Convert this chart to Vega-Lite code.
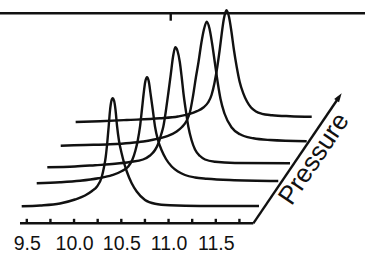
{
  "$schema": "https://vega.github.io/schema/vega-lite/v6.json",
  "width": 365,
  "height": 224,
  "autosize": {"type": "none"},
  "padding": {"left": 0, "top": 0, "right": 0, "bottom": 31},
  "background": "white",
  "view": {"stroke": null},
  "config": {"font": "Liberation Sans"},
  "datasets": {
    "traces": [
      {"trace": 1, "x": 9.446, "y": -0.003}, {"trace": 1, "x": 9.640, "y": 0.005}, {"trace": 1, "x": 9.851, "y": 0.025}, {"trace": 1, "x": 10.010, "y": 0.065}, {"trace": 1, "x": 10.116, "y": 0.105}, {"trace": 1, "x": 10.190, "y": 0.15}, {"trace": 1, "x": 10.243, "y": 0.195}, {"trace": 1, "x": 10.293, "y": 0.29}, {"trace": 1, "x": 10.317, "y": 0.39}, {"trace": 1, "x": 10.335, "y": 0.49}, {"trace": 1, "x": 10.351, "y": 0.63}, {"trace": 1, "x": 10.366, "y": 0.79}, {"trace": 1, "x": 10.380, "y": 0.95}, {"trace": 1, "x": 10.395, "y": 1.05}, {"trace": 1, "x": 10.409, "y": 1.077}, {"trace": 1, "x": 10.423, "y": 1.055}, {"trace": 1, "x": 10.439, "y": 0.96}, {"trace": 1, "x": 10.455, "y": 0.80}, {"trace": 1, "x": 10.476, "y": 0.65}, {"trace": 1, "x": 10.504, "y": 0.525}, {"trace": 1, "x": 10.531, "y": 0.425}, {"trace": 1, "x": 10.560, "y": 0.34}, {"trace": 1, "x": 10.610, "y": 0.227}, {"trace": 1, "x": 10.663, "y": 0.145}, {"trace": 1, "x": 10.751, "y": 0.06}, {"trace": 1, "x": 10.857, "y": 0.022}, {"trace": 1, "x": 11.015, "y": 0.007}, {"trace": 1, "x": 11.333, "y": 0.0}, {"trace": 1, "x": 11.957, "y": 0.0},
      {"trace": 2, "x": 9.605, "y": 0.227}, {"trace": 2, "x": 9.851, "y": 0.237}, {"trace": 2, "x": 10.063, "y": 0.252}, {"trace": 2, "x": 10.257, "y": 0.277}, {"trace": 2, "x": 10.402, "y": 0.308}, {"trace": 2, "x": 10.507, "y": 0.35}, {"trace": 2, "x": 10.574, "y": 0.395}, {"trace": 2, "x": 10.616, "y": 0.46}, {"trace": 2, "x": 10.648, "y": 0.55}, {"trace": 2, "x": 10.675, "y": 0.66}, {"trace": 2, "x": 10.698, "y": 0.793}, {"trace": 2, "x": 10.719, "y": 0.97}, {"trace": 2, "x": 10.736, "y": 1.12}, {"trace": 2, "x": 10.753, "y": 1.24}, {"trace": 2, "x": 10.772, "y": 1.287}, {"trace": 2, "x": 10.791, "y": 1.245}, {"trace": 2, "x": 10.809, "y": 1.127}, {"trace": 2, "x": 10.832, "y": 0.97}, {"trace": 2, "x": 10.857, "y": 0.793}, {"trace": 2, "x": 10.888, "y": 0.66}, {"trace": 2, "x": 10.928, "y": 0.555}, {"trace": 2, "x": 10.973, "y": 0.47}, {"trace": 2, "x": 11.033, "y": 0.395}, {"trace": 2, "x": 11.100, "y": 0.345}, {"trace": 2, "x": 11.174, "y": 0.31}, {"trace": 2, "x": 11.280, "y": 0.285}, {"trace": 2, "x": 11.407, "y": 0.273}, {"trace": 2, "x": 11.650, "y": 0.26}, {"trace": 2, "x": 12.161, "y": 0.25},
      {"trace": 3, "x": 9.717, "y": 0.387}, {"trace": 3, "x": 10.010, "y": 0.395}, {"trace": 3, "x": 10.222, "y": 0.408}, {"trace": 3, "x": 10.433, "y": 0.422}, {"trace": 3, "x": 10.592, "y": 0.44}, {"trace": 3, "x": 10.730, "y": 0.465}, {"trace": 3, "x": 10.804, "y": 0.505}, {"trace": 3, "x": 10.857, "y": 0.56}, {"trace": 3, "x": 10.894, "y": 0.63}, {"trace": 3, "x": 10.920, "y": 0.71}, {"trace": 3, "x": 10.945, "y": 0.795}, {"trace": 3, "x": 10.973, "y": 0.96}, {"trace": 3, "x": 10.997, "y": 1.125}, {"trace": 3, "x": 11.024, "y": 1.32}, {"trace": 3, "x": 11.047, "y": 1.49}, {"trace": 3, "x": 11.071, "y": 1.587}, {"trace": 3, "x": 11.095, "y": 1.55}, {"trace": 3, "x": 11.119, "y": 1.44}, {"trace": 3, "x": 11.140, "y": 1.28}, {"trace": 3, "x": 11.158, "y": 1.125}, {"trace": 3, "x": 11.182, "y": 0.96}, {"trace": 3, "x": 11.209, "y": 0.795}, {"trace": 3, "x": 11.243, "y": 0.66}, {"trace": 3, "x": 11.280, "y": 0.565}, {"trace": 3, "x": 11.333, "y": 0.50}, {"trace": 3, "x": 11.386, "y": 0.465}, {"trace": 3, "x": 11.492, "y": 0.442}, {"trace": 3, "x": 11.703, "y": 0.43}, {"trace": 3, "x": 12.285, "y": 0.427},
      {"trace": 4, "x": 9.859, "y": 0.603}, {"trace": 4, "x": 10.116, "y": 0.61}, {"trace": 4, "x": 10.380, "y": 0.617}, {"trace": 4, "x": 10.592, "y": 0.63}, {"trace": 4, "x": 10.733, "y": 0.645}, {"trace": 4, "x": 10.835, "y": 0.662}, {"trace": 4, "x": 10.910, "y": 0.678}, {"trace": 4, "x": 10.994, "y": 0.702}, {"trace": 4, "x": 11.086, "y": 0.745}, {"trace": 4, "x": 11.142, "y": 0.79}, {"trace": 4, "x": 11.190, "y": 0.85}, {"trace": 4, "x": 11.227, "y": 0.94}, {"trace": 4, "x": 11.259, "y": 1.10}, {"trace": 4, "x": 11.290, "y": 1.29}, {"trace": 4, "x": 11.317, "y": 1.44}, {"trace": 4, "x": 11.347, "y": 1.63}, {"trace": 4, "x": 11.373, "y": 1.76}, {"trace": 4, "x": 11.404, "y": 1.843}, {"trace": 4, "x": 11.433, "y": 1.775}, {"trace": 4, "x": 11.460, "y": 1.63}, {"trace": 4, "x": 11.492, "y": 1.42}, {"trace": 4, "x": 11.521, "y": 1.23}, {"trace": 4, "x": 11.550, "y": 1.07}, {"trace": 4, "x": 11.592, "y": 0.925}, {"trace": 4, "x": 11.668, "y": 0.785}, {"trace": 4, "x": 11.756, "y": 0.717}, {"trace": 4, "x": 11.897, "y": 0.677}, {"trace": 4, "x": 12.074, "y": 0.66}, {"trace": 4, "x": 12.462, "y": 0.648},
      {"trace": 5, "x": 10.017, "y": 0.84}, {"trace": 5, "x": 10.275, "y": 0.848}, {"trace": 5, "x": 10.557, "y": 0.86}, {"trace": 5, "x": 10.910, "y": 0.877}, {"trace": 5, "x": 11.100, "y": 0.895}, {"trace": 5, "x": 11.216, "y": 0.918}, {"trace": 5, "x": 11.301, "y": 0.948}, {"trace": 5, "x": 11.368, "y": 0.985}, {"trace": 5, "x": 11.418, "y": 1.035}, {"trace": 5, "x": 11.455, "y": 1.11}, {"trace": 5, "x": 11.486, "y": 1.23}, {"trace": 5, "x": 11.516, "y": 1.393}, {"trace": 5, "x": 11.541, "y": 1.56}, {"trace": 5, "x": 11.563, "y": 1.727}, {"trace": 5, "x": 11.587, "y": 1.88}, {"trace": 5, "x": 11.613, "y": 1.957}, {"trace": 5, "x": 11.640, "y": 1.89}, {"trace": 5, "x": 11.666, "y": 1.74}, {"trace": 5, "x": 11.692, "y": 1.56}, {"trace": 5, "x": 11.721, "y": 1.393}, {"trace": 5, "x": 11.753, "y": 1.24}, {"trace": 5, "x": 11.791, "y": 1.127}, {"trace": 5, "x": 11.830, "y": 1.045}, {"trace": 5, "x": 11.873, "y": 0.985}, {"trace": 5, "x": 11.925, "y": 0.945}, {"trace": 5, "x": 11.989, "y": 0.922}, {"trace": 5, "x": 12.095, "y": 0.908}, {"trace": 5, "x": 12.285, "y": 0.898}, {"trace": 5, "x": 12.515, "y": 0.893}
    ],
    "segments": [
      {"part": "x axis", "x": 9.428, "x2": 11.897, "y": -0.173, "y2": -0.173},
      {"part": "tick", "x": 9.5, "x2": 9.5, "y": -0.173, "y2": -0.128},
      {"part": "tick", "x": 9.75, "x2": 9.75, "y": -0.173, "y2": -0.128},
      {"part": "tick", "x": 10.0, "x2": 10.0, "y": -0.173, "y2": -0.128},
      {"part": "tick", "x": 10.25, "x2": 10.25, "y": -0.173, "y2": -0.128},
      {"part": "tick", "x": 10.5, "x2": 10.5, "y": -0.173, "y2": -0.128},
      {"part": "tick", "x": 10.75, "x2": 10.75, "y": -0.173, "y2": -0.128},
      {"part": "tick", "x": 11.0, "x2": 11.0, "y": -0.173, "y2": -0.128},
      {"part": "tick", "x": 11.25, "x2": 11.25, "y": -0.173, "y2": -0.128},
      {"part": "tick", "x": 11.5, "x2": 11.5, "y": -0.173, "y2": -0.128},
      {"part": "tick", "x": 11.75, "x2": 11.75, "y": -0.173, "y2": -0.128},
      {"part": "top border", "x": 9.2164, "x2": 13.0788, "y": 1.927, "y2": 1.927},
      {"part": "top tick", "x": 11.023, "x2": 11.023, "y": 1.927, "y2": 1.853},
      {"part": "pressure axis", "x": 11.897, "x2": 12.805, "y": -0.173, "y2": 1.09}
    ],
    "arrow": [{"x": 12.805, "y": 1.09}],
    "labels": [{"x": 12.539, "y": 0.47, "label": "Pressure"}]
  },
  "layer": [
    {
      "data": {"name": "traces"},
      "mark": {"type": "line", "color": "#111111", "strokeWidth": 2.4, "interpolate": "monotone"},
      "encoding": {
        "x": {
          "field": "x", "type": "quantitative",
          "scale": {"domain": [9.2164, 13.0788], "nice": false, "zero": false},
          "axis": {
            "values": [9.5, 10.0, 10.5, 11.0, 11.5], "format": ".1f", "title": null,
            "domain": false, "ticks": false, "grid": false,
            "labelFont": "Liberation Sans", "labelFontSize": 19.5, "labelColor": "#111111",
            "labelPadding": 10, "labelFlush": false, "labelOverlap": false
          }
        },
        "y": {
          "field": "y", "type": "quantitative",
          "scale": {"domain": [-0.18, 2.06], "nice": false, "zero": false},
          "axis": null
        },
        "detail": {"field": "trace", "type": "nominal"}
      }
    },
    {
      "data": {"name": "segments"},
      "mark": {"type": "rule", "color": "#111111", "strokeWidth": 2.4},
      "encoding": {
        "x": {"field": "x", "type": "quantitative"},
        "x2": {"field": "x2"},
        "y": {"field": "y", "type": "quantitative"},
        "y2": {"field": "y2"}
      }
    },
    {
      "data": {"name": "arrow"},
      "mark": {"type": "point", "shape": "M0,-1L0.65,1L-0.65,1Z", "filled": true, "color": "#111111", "opacity": 1, "size": 81, "angle": 34},
      "encoding": {
        "x": {"field": "x", "type": "quantitative"},
        "y": {"field": "y", "type": "quantitative"}
      }
    },
    {
      "data": {"name": "labels"},
      "mark": {"type": "text", "font": "Liberation Sans", "fontSize": 26, "color": "#111111", "angle": 304, "align": "center", "baseline": "middle"},
      "encoding": {
        "x": {"field": "x", "type": "quantitative"},
        "y": {"field": "y", "type": "quantitative"},
        "text": {"field": "label"}
      }
    }
  ]
}
